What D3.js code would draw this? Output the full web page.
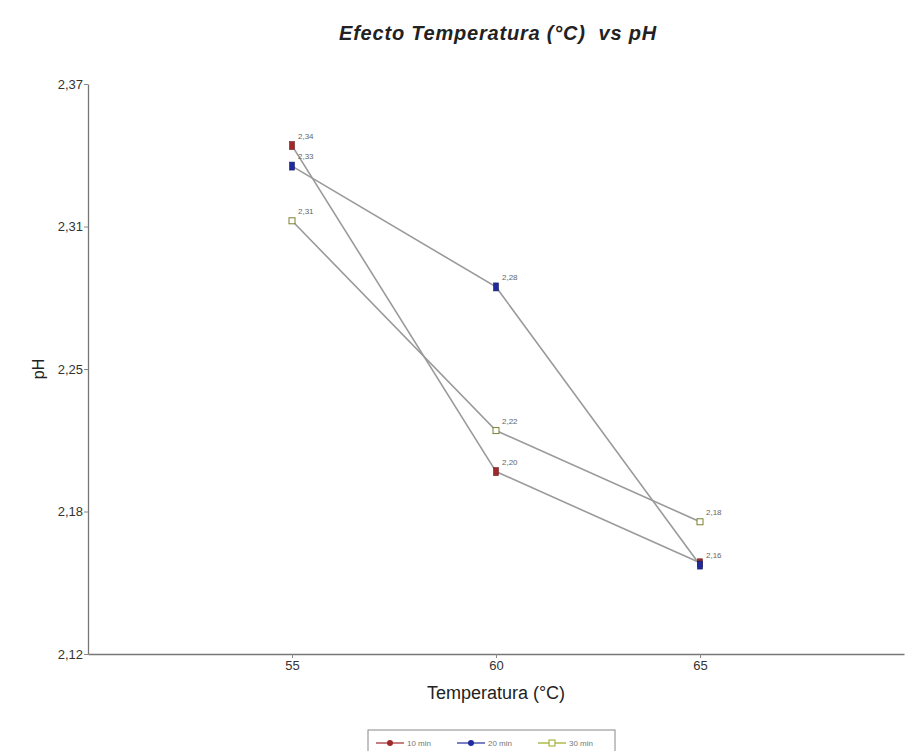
<!DOCTYPE html>
<html>
<head>
<meta charset="utf-8">
<script src="https://cdn.jsdelivr.net/npm/d3@7"></script>
<style>
  body { margin: 0; background: #fff; }
  svg { display: block; font-family: "Liberation Sans", Arial, sans-serif; }
</style>
</head>
<body>
<svg id="chart" width="908" height="751"></svg>
<script>
// Temperature levels (°C)
const temperatures = [55, 60, 65];
// Series (heating time) and their pH readings at each temperature
const seriesNames = ["10 min", "20 min", "30 min"];
const ph10 = [2.343, 2.200, 2.160];
const ph20 = [2.334, 2.281, 2.159];
const ph30 = [2.310, 2.218, 2.178];
const seriesValues = [ph10, ph20, ph30];
const seriesColors = ["#a0282a", "#1f2a9c", "#9aa81e"];
// Y axis ticks: evenly spaced from 2.12 to 2.37
const yTicks = [2.12, 2.1825, 2.245, 2.3075, 2.37];
const xTicks = [55, 60, 65];

const svg = d3.select("#chart");
const margin = { left: 88, right: 904, top: 84, bottom: 654 };

const x = d3.scaleLinear().domain([50, 70]).range([margin.left, margin.right]);
const y = d3.scaleLinear().domain([2.12, 2.37]).range([margin.bottom, margin.top]);
const commaFmt = d => d3.format(".2f")(d + 1e-9).replace(".", ",");

// Title
svg.append("text")
  .attr("x", 498).attr("y", 40)
  .attr("text-anchor", "middle")
  .style("white-space", "pre")
  .style("font-size", "20px").style("font-weight", "bold").style("font-style", "italic")
  .style("letter-spacing", "0.8px")
  .attr("fill", "#222")
  .text("Efecto Temperatura (°C)  vs pH");

// Axes
const yAxis = d3.axisLeft(y).tickValues(yTicks).tickSizeInner(4).tickSizeOuter(0).tickFormat(commaFmt);
const gy = svg.append("g").attr("transform", `translate(${margin.left},0)`).call(yAxis);
const xAxis = d3.axisBottom(x).tickValues(xTicks).tickSizeInner(4).tickSizeOuter(0).tickFormat(d3.format("d"));
const gx = svg.append("g").attr("transform", `translate(0,${margin.bottom})`).call(xAxis);
[gx, gy].forEach(g => {
  g.select(".domain").attr("stroke", "#777").attr("stroke-width", 1.3);
  g.selectAll(".tick line").attr("stroke", "#888");
  g.selectAll(".tick text").attr("fill", "#333").style("font-size", "13px")
    .style("font-family", "'Liberation Sans', Arial, sans-serif");
});
gy.selectAll(".tick text").attr("x", -5);
gx.selectAll(".tick text").attr("y", 7);

// Axis titles
svg.append("text")
  .attr("x", x(60)).attr("y", 699)
  .attr("text-anchor", "middle")
  .style("font-size", "18px").attr("fill", "#222")
  .text("Temperatura (°C)");
svg.append("text")
  .attr("transform", `translate(44,${y(2.245)}) rotate(-90)`)
  .attr("text-anchor", "middle")
  .style("font-size", "16px").attr("fill", "#222")
  .text("pH");

// Series lines
const line = d3.line().x((d, i) => x(temperatures[i])).y(d => y(d));
seriesValues.forEach(vals => {
  svg.append("path")
    .datum(vals)
    .attr("d", line)
    .attr("fill", "none")
    .attr("stroke", "#9a9a9a")
    .attr("stroke-width", 1.6);
});

// Markers
function drawMarker(g, cx, cy, s) {
  if (s === 2) {
    g.append("rect").attr("x", cx - 3).attr("y", cy - 3).attr("width", 6).attr("height", 6)
      .attr("fill", "#fff").attr("stroke", "#7a8030").attr("stroke-width", 1);
  } else {
    g.append("rect").attr("x", cx - 2.5).attr("y", cy - 4).attr("width", 5).attr("height", 8)
      .attr("fill", seriesColors[s]).attr("stroke", s === 0 ? "#6a2020" : "#1a1f66").attr("stroke-width", 0.6);
  }
}
const markers = svg.append("g");
seriesValues.forEach((vals, s) => {
  vals.forEach((v, i) => drawMarker(markers, x(temperatures[i]), y(v), s));
});

// Value labels
const labels = svg.append("g");
seriesValues.forEach((vals, s) => {
  vals.forEach((v, i) => {
    // 10 min at 65 °C sits under the 20 min point and shares its label
    if (s === 0 && i === 2) return;
    labels.append("text")
      .attr("x", x(temperatures[i]) + 6)
      .attr("y", y(v) - 7)
      .style("font-size", "8px")
      .attr("fill", "#666")
      .text(commaFmt(v));
  });
});

// Legend
const legend = svg.append("g");
legend.append("rect").attr("x", 368).attr("y", 730).attr("width", 247).attr("height", 30)
  .attr("fill", "#fff").attr("stroke", "#888").attr("stroke-width", 1);
seriesNames.forEach((name, s) => {
  const lx = 376 + s * 81;
  const ly = 743;
  legend.append("line").attr("x1", lx).attr("x2", lx + 28).attr("y1", ly).attr("y2", ly)
    .attr("stroke", seriesColors[s]).attr("stroke-width", 1.2);
  if (s === 2) {
    legend.append("rect").attr("x", lx + 11).attr("y", ly - 3).attr("width", 6).attr("height", 6)
      .attr("fill", "#fff").attr("stroke", seriesColors[s]);
  } else {
    legend.append("circle").attr("cx", lx + 14).attr("cy", ly).attr("r", 3)
      .attr("fill", seriesColors[s]);
  }
  legend.append("text").attr("x", lx + 31).attr("y", ly + 3)
    .style("font-size", "8px").attr("fill", "#777").text(name);
});
</script>
</body>
</html>
